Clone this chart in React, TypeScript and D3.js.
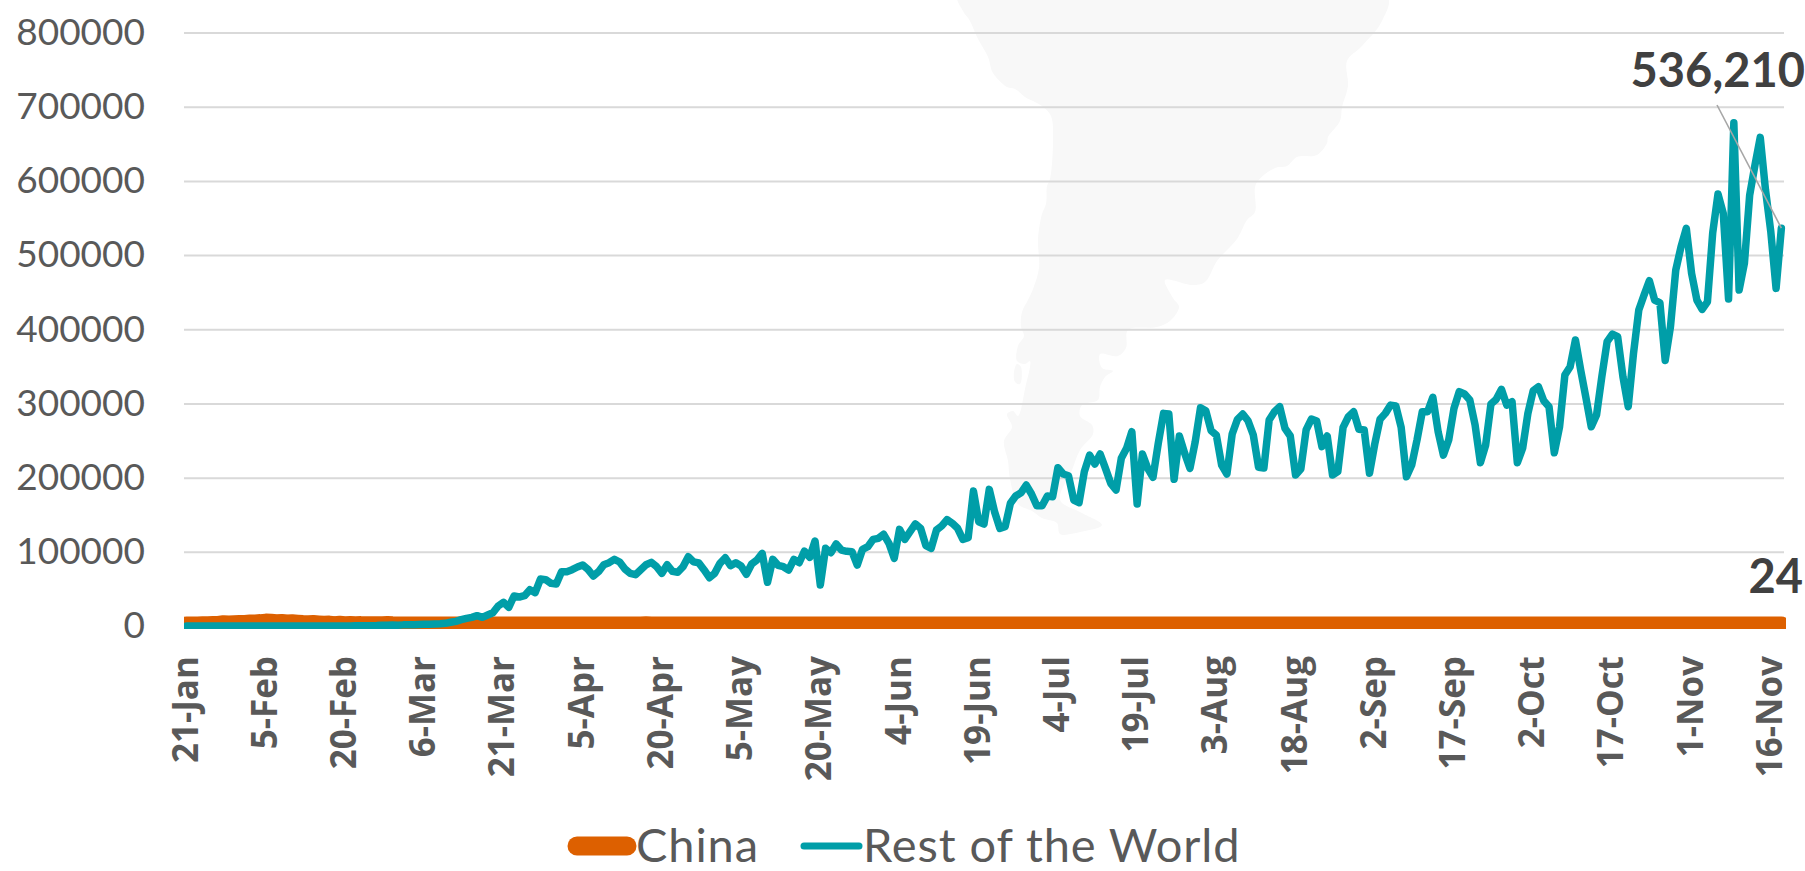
import { useEffect, useRef } from "react";
import * as d3 from "d3";

/* ---------- data, one value per day from 21 Jan 2020 ---------- */

const startDay = new Date(2020, 0, 21);
const categories = d3.timeDay.range(startDay, d3.timeDay.offset(startDay, 303));

const xTickLabels = [
  "21-Jan", "5-Feb", "20-Feb", "6-Mar", "21-Mar", "5-Apr", "20-Apr",
  "5-May", "20-May", "4-Jun", "19-Jun", "4-Jul", "19-Jul", "3-Aug",
  "18-Aug", "2-Sep", "17-Sep", "2-Oct", "17-Oct", "1-Nov", "16-Nov",
];

const yTicks = [0, 100000, 200000, 300000, 400000, 500000, 600000, 700000, 800000];

const chinaValues = [
  77, 149, 131, 259, 444, 688, 769, 1771, 1459, 1737, 1981, 2099, 2589, 2825, 3235,
  3884, 3694, 3143, 3385, 2652, 2984, 2473, 2022, 1820, 1998, 1506, 1120, 1200, 394, 889,
  397, 648, 409, 508, 206, 433, 327, 427, 573, 202, 125, 119, 139, 143, 99,
  44, 40, 19, 24, 15, 20, 11, 20, 16, 13, 34, 39, 41, 46, 39,
  78, 47, 67, 55, 54, 45, 93, 76, 78, 82, 48, 105, 86, 89, 46,
  99, 108, 52, 61, 42, 30, 39, 32, 63, 46, 89, 46, 352, 27, 20,
  12, 30, 11, 22, 6, 12, 6, 3, 2, 14, 1, 3, 1, 17, 14,
  7, 4, 12, 5, 8, 3, 7, 16, 6, 4, 6, 11, 3, 4, 7,
  2, 3, 4, 5, 3, 7, 5, 4, 6, 9, 6, 11, 18, 57, 36,
  49, 67, 40, 29, 43, 27, 24, 30, 22, 18, 13, 19, 17, 12, 21,
  8, 11, 7, 6, 12, 9, 5, 3, 8, 11, 7, 6, 9, 13, 17,
  22, 26, 35, 40, 46, 61, 68, 105, 127, 123, 68, 49, 61, 46, 43,
  36, 37, 30, 25, 22, 19, 44, 21, 17, 28, 22, 30, 24, 23, 16,
  19, 16, 22, 14, 27, 17, 13, 10, 8, 11, 14, 13, 10, 16, 9,
  7, 13, 18, 21, 12, 10, 6, 14, 12, 19, 8, 12, 11, 14, 20,
  15, 19, 12, 18, 25, 9, 13, 16, 21, 15, 24, 28, 22, 19, 11,
  14, 17, 20, 31, 26, 14, 22, 16, 30, 27, 36, 18, 22, 15, 29,
  24, 21, 42, 35, 16, 29, 28, 24, 33, 22, 19, 17, 26, 30, 25,
  33, 28, 41, 31, 22, 27, 43, 24, 11, 19, 16, 28, 33, 17, 24,
  38, 22, 31, 26, 18, 35, 29, 23, 40, 27, 19, 33, 21, 28, 17,
  24, 30, 24,
];

const restOfWorldValues = [
  4, 0, 6, 1, 4, 8, 14, 17, 17, 8, 23, 34, 27, 35, 30,
  14, 16, 26, 12, 20, 14, 29, 1, 18, 14, 33, 22, 45, 56, 90,
  76, 93, 220, 302, 366, 426, 556, 890, 933, 1216, 1089, 1526, 1641, 1791, 2011,
  2217, 2430, 2780, 3100, 3600, 5000, 6300, 8500, 10300, 11700, 13900, 11700, 14800, 17900, 27000,
  31900, 25200, 40400, 39100, 40900, 48900, 44900, 63300, 62400, 57500, 56600, 73200, 73200, 75900, 79500,
  82200, 76400, 67400, 73200, 82600, 85300, 89900, 86300, 76800, 71000, 69200, 75900, 82600, 85800, 79900,
  71000, 82600, 73700, 72400, 79900, 93400, 86500, 85000, 75500, 65100, 71000, 84500, 92000, 81300, 85300,
  80900, 69700, 83600, 88900, 97900, 58900, 89900, 81800, 79900, 75500, 89900, 85300, 101000, 92600, 114600,
  55200, 104700, 98800, 110500, 102400, 100700, 100100, 82200, 103400, 106900, 116800, 118200, 123600, 111500, 91200,
  130300, 116800, 127100, 137500, 131700, 108200, 104700, 129400, 135000, 143300, 138400, 131700, 116800, 119000, 181900,
  140600, 137500, 184200, 154000, 131700, 133800, 165400, 175200, 179600, 190000, 177900, 162100, 162100, 175200, 174300,
  213300, 204900, 202600, 169800, 166200, 208000, 230400, 218300, 231800, 212500, 192300, 183300, 226000, 239500, 261900,
  164400, 231800, 212500, 200400, 246200, 286600, 285700, 197700, 256100, 232700, 212500, 248400, 294200, 290200, 263300,
  257400, 217000, 204900, 258800, 278600, 285700, 276700, 257400, 213900, 212900, 277600, 288800, 295600, 266400, 256100,
  203500, 211600, 264200, 279000, 276300, 241700, 256100, 203500, 208000, 267800, 282100, 288800, 265100, 264200, 205800,
  245300, 278600, 286600, 297800, 296500, 267800, 201200, 217000, 250700, 288800, 288800, 308200, 261900, 230400, 250700,
  293400, 315800, 312700, 304600, 270900, 220100, 243900, 299200, 305500, 319000, 297800, 302300, 220100, 239500, 286600,
  317100, 322500, 303600, 295600, 233600, 268600, 338300, 349500, 385500, 345000, 307300, 268600, 284400, 336000, 383200,
  393300, 389900, 336000, 295600, 367500, 425900, 446100, 465400, 439300, 435700, 358000, 403400, 479800, 511200, 536000,
  475300, 439300, 426800, 437000, 530000, 582200, 556200, 440700, 678300, 452800, 488800, 580900, 621300, 658600, 587600,
  531400, 455100, 536210,
];

const endLabels = { china: "24", rest: "536,210" };
const legendNames = ["China", "Rest of the World"];

/* South America in the background, pixel outline of the picture */
const landOutline: [number, number][] = [
  [958, -4], [963, 11], [970, 21], [977, 37], [988, 57], [993, 73], [1007, 87], [1015, 89],
  [1025, 97], [1042, 106], [1051, 116], [1053, 141], [1050, 179], [1047, 186], [1046, 204],
  [1042, 214], [1038, 239], [1039, 268], [1033, 289], [1028, 300], [1022, 312], [1021, 327],
  [1024, 336], [1018, 346], [1017, 361], [1025, 364], [1030, 361], [1025, 389], [1018, 416],
  [1013, 411], [1007, 414], [1012, 427], [1004, 441], [1008, 461], [1010, 479], [1018, 504],
  [1032, 511], [1042, 518], [1057, 523], [1060, 534], [1080, 532], [1102, 525], [1080, 512],
  [1060, 500], [1072, 470], [1080, 450], [1093, 434], [1092, 425], [1080, 416], [1082, 405],
  [1098, 400], [1100, 387], [1105, 377], [1113, 371], [1102, 368], [1100, 354], [1118, 356],
  [1126, 348], [1128, 330], [1157, 327], [1170, 321], [1179, 307], [1173, 298], [1165, 280],
  [1192, 285], [1205, 282], [1217, 261], [1237, 239], [1247, 220], [1255, 212], [1256, 184],
  [1275, 168], [1287, 166], [1297, 157], [1317, 155], [1327, 143], [1328, 137], [1340, 121],
  [1342, 107], [1348, 86], [1347, 61], [1362, 46], [1382, 21], [1387, -4],
];
const landIsland: [number, number][] = [
  [1017, 364], [1021, 367], [1020, 384], [1015, 382], [1014, 372],
];

const font = 'Lato, "Open Sans", sans-serif';
const boldAxisFont = '"Open Sans", Lato, sans-serif';
const width = 1805;
const height = 871;

export default function App() {
  const svgRef = useRef<SVGSVGElement>(null);

  useEffect(() => {
    const svg = d3.select(svgRef.current);
    svg.selectAll("*").remove();

    const plot = { left: 184, right: 1784, top: 32.5, bottom: 626 };

    const xScale = d3
      .scalePoint<Date>()
      .domain(categories)
      .range([plot.left, plot.right])
      .padding(0.5);

    const yScale = d3.scaleLinear().domain([0, 800000]).range([plot.bottom, plot.top]);

    // Background map
    const landLine = d3.line().curve(d3.curveCatmullRomClosed.alpha(0.5));
    svg.append("path").attr("d", landLine(landOutline)).attr("fill", "#f8f8f8");
    svg.append("path").attr("d", landLine(landIsland)).attr("fill", "#f8f8f8");

    // Grid lines
    svg
      .append("g")
      .attr("transform", `translate(${plot.left},0)`)
      .call(
        d3
          .axisLeft(yScale)
          .tickValues(yTicks)
          .tickSize(-(plot.right - plot.left))
          .tickFormat(() => ""),
      )
      .call((gg) => gg.select(".domain").remove())
      .call((gg) => gg.selectAll("line").attr("stroke", "#d9d9d9").attr("stroke-width", 2));

    // Y axis labels
    svg
      .append("g")
      .attr("transform", `translate(145,0)`)
      .call(d3.axisLeft(yScale).tickValues(yTicks).tickSize(0).tickPadding(0).tickFormat(d3.format("d")))
      .call((gg) => gg.select(".domain").remove())
      .call((gg) =>
        gg
          .selectAll("text")
          .attr("fill", "#595959")
          .attr("font-family", font)
          .attr("font-size", "37px"),
      );

    // X axis labels, every 15th day
    const labelDays = categories.filter((_, i) => i % 15 === 0);
    svg
      .append("g")
      .attr("transform", `translate(0,${plot.bottom})`)
      .call(
        d3
          .axisBottom(xScale)
          .tickValues(labelDays)
          .tickSize(0)
          .tickFormat((_, i) => xTickLabels[i]),
      )
      .call((gg) => gg.select(".domain").remove())
      .call((gg) =>
        gg
          .selectAll("text")
          .attr("transform", "rotate(-90)")
          .attr("text-anchor", "end")
          .attr("x", -30)
          .attr("y", 0)
          .attr("dy", "0.3em")
          .attr("fill", "#595959")
          .attr("font-family", boldAxisFont)
          .attr("font-weight", 700)
          .attr("font-size", "35px"),
      );

    // Lines are cut off by the plot area at the bottom and on both sides
    svg
      .append("clipPath")
      .attr("id", "plot-clip")
      .append("rect")
      .attr("x", plot.left)
      .attr("y", 0)
      .attr("width", 1786 - plot.left)
      .attr("height", 629);

    const lineGen = d3
      .line<number>()
      .x((_, i) => xScale(categories[i]) as number)
      .y((d) => yScale(d));

    const lines = svg.append("g").attr("clip-path", "url(#plot-clip)");
    lines
      .append("path")
      .attr("d", lineGen(chinaValues))
      .attr("fill", "none")
      .attr("stroke", "#dd6000")
      .attr("stroke-width", 19)
      .attr("stroke-linecap", "round")
      .attr("stroke-linejoin", "round");
    lines
      .append("path")
      .attr("d", lineGen(restOfWorldValues))
      .attr("fill", "none")
      .attr("stroke", "#009ea8")
      .attr("stroke-width", 7.5)
      .attr("stroke-linecap", "round")
      .attr("stroke-linejoin", "round");

    // Leader line of the last value
    const lastDay = categories[categories.length - 1];
    svg
      .append("line")
      .attr("x1", 1717)
      .attr("y1", 105)
      .attr("x2", xScale(lastDay) as number)
      .attr("y2", yScale(restOfWorldValues[restOfWorldValues.length - 1]))
      .attr("stroke", "#a6a6a6")
      .attr("stroke-width", 1.6);

    // End labels
    svg
      .append("text")
      .attr("x", 1805)
      .attr("y", 87)
      .attr("text-anchor", "end")
      .attr("fill", "#404040")
      .attr("font-family", font)
      .attr("font-weight", 700)
      .attr("font-size", "47px")
      .text(endLabels.rest);
    svg
      .append("text")
      .attr("x", 1803)
      .attr("y", 593)
      .attr("text-anchor", "end")
      .attr("fill", "#404040")
      .attr("font-family", font)
      .attr("font-weight", 700)
      .attr("font-size", "47px")
      .text(endLabels.china);

    // Legend
    const legendY = 846;
    svg
      .append("line")
      .attr("x1", 577)
      .attr("x2", 627)
      .attr("y1", legendY)
      .attr("y2", legendY)
      .attr("stroke", "#dd6000")
      .attr("stroke-width", 19)
      .attr("stroke-linecap", "round");
    svg
      .append("line")
      .attr("x1", 804)
      .attr("x2", 859)
      .attr("y1", legendY)
      .attr("y2", legendY)
      .attr("stroke", "#009ea8")
      .attr("stroke-width", 7)
      .attr("stroke-linecap", "round");
    [636, 863].forEach((x, i) => {
      svg
        .append("text")
        .attr("x", x)
        .attr("y", 862)
        .attr("fill", "#595959")
        .attr("font-family", font)
        .attr("font-size", "47px")
        .attr("letter-spacing", "0.9px")
        .text(legendNames[i]);
    });
  }, []);

  return (
    <svg
      ref={svgRef}
      width={width}
      height={height}
      style={{ position: "absolute", left: 0, top: 0, display: "block", background: "#fff" }}
    />
  );
}
